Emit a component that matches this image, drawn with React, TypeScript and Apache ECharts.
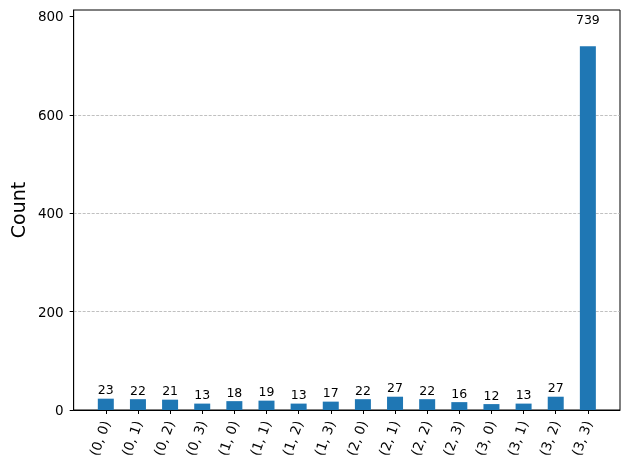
import * as echarts from 'echarts';
import { useEffect, useRef } from 'react';

const categories = [
  '(0, 0)', '(0, 1)', '(0, 2)', '(0, 3)',
  '(1, 0)', '(1, 1)', '(1, 2)', '(1, 3)',
  '(2, 0)', '(2, 1)', '(2, 2)', '(2, 3)',
  '(3, 0)', '(3, 1)', '(3, 2)', '(3, 3)',
];
const counts = [23, 22, 21, 13, 18, 19, 13, 17, 22, 27, 22, 16, 12, 13, 27, 739];
const yTicks = [0, 200, 400, 600, 800];

const font = 'DejaVu Sans';
const barColor = '#1f77b4';

export default function App() {
  const container = useRef<HTMLDivElement | null>(null);

  useEffect(() => {
    if (!container.current) return;
    const chart = echarts.init(container.current, null, { renderer: 'svg' });

    // 上方留出 10% 空间（与原图一致）
    const yMax = Math.max(...counts) * 1.1;
    const plotHeight = 400;
    const pxPerUnit = plotHeight / yMax;

    chart.setOption({
      animation: false,
      textStyle: { fontFamily: font },
      grid: {
        left: 71,
        right: 10,
        top: 10,
        bottom: 60,
        show: true,
        borderColor: '#000',
        borderWidth: 1,
        backgroundColor: 'transparent',
      },
      xAxis: {
        type: 'value',
        min: -1,
        max: 16,
        interval: 1,
        axisLine: { show: true, onZero: false, lineStyle: { color: '#000', width: 1 } },
        axisTick: {
          show: true,
          length: 4,
          lineStyle: { color: '#000' },
          customValues: categories.map((_, i) => i),
        },
        axisLabel: {
          customValues: categories.map((_, i) => i),
          formatter: (v: number) => categories[v] ?? '',
          rotate: 70,
          margin: 11,
          fontSize: 13.5,
          color: '#000',
          fontFamily: font,
        },
        splitLine: { show: false },
      },
      yAxis: {
        type: 'value',
        min: 0,
        max: yMax,
        interval: 200,
        name: 'Count',
        nameLocation: 'middle',
        nameRotate: 90,
        nameGap: 44,
        nameTextStyle: { fontSize: 19, color: '#000', fontFamily: font },
        axisLine: { show: true, onZero: false, lineStyle: { color: '#000', width: 1 } },
        axisTick: {
          show: true,
          length: 4,
          lineStyle: { color: '#000' },
          customValues: yTicks,
        },
        axisLabel: {
          customValues: yTicks,
          margin: 10,
          fontSize: 13.5,
          color: '#000',
          fontFamily: font,
        },
        splitLine: {
          show: true,
          showMinLine: false,
          showMaxLine: false,
          lineStyle: { color: '#b0b0b0', width: 0.8, type: [3, 1.5] },
        },
      },
      series: [
        {
          type: 'bar',
          barWidth: 16,
          itemStyle: { color: barColor },
          label: {
            show: true,
            position: 'top',
            fontSize: 12.5,
            color: '#000',
            fontFamily: font,
          },
          data: counts.map((v, i) => ({
            value: [i, v],
            label: { distance: 2 + v * 0.05 * pxPerUnit },
          })),
        },
      ],
    } as echarts.EChartsOption);

    return () => {
      chart.dispose();
    };
  }, []);

  return (
    <div
      ref={container}
      style={{ position: 'fixed', left: 0, top: 0, width: 630, height: 470 }}
    />
  );
}
